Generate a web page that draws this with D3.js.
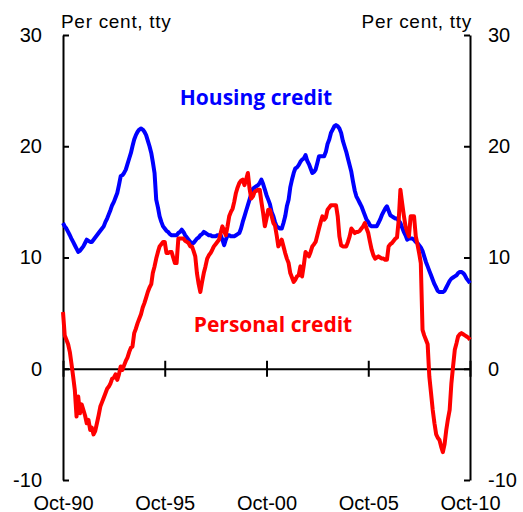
<!DOCTYPE html>
<html>
<head>
<meta charset="utf-8">
<script src="https://cdn.jsdelivr.net/npm/d3@7"></script>
<style>
  body { margin: 0; background: #fff; }
  svg { display: block; }
</style>
</head>
<body>
<svg></svg>
<script>
// monthly series, Oct-90 .. Oct-10, per cent year-ended
let startMonth = new Date(1990, 9, 1)

let housing = [
  13.1, 12.8, 12.6, 12.3, 12.0, 11.7, 11.4, 11.1, 10.8, 10.5, 10.6, 10.8,
  11.0, 11.3, 11.6, 11.5, 11.4, 11.4, 11.6, 11.8, 12.0, 12.2, 12.4, 12.6,
  12.8, 13.2, 13.5, 13.9, 14.3, 14.7, 15.0, 15.4, 15.8, 16.5, 17.3, 17.4,
  17.6, 17.9, 18.4, 18.9, 19.4, 20.0, 20.6, 21.0, 21.3, 21.5, 21.6, 21.5,
  21.3, 21.0, 20.5, 20.0, 19.4, 18.6, 17.6, 15.2, 14.5, 13.7, 13.2, 12.8,
  12.6, 12.4, 12.3, 12.1, 12.0, 12.0, 12.0, 12.0, 12.2, 12.3, 12.5, 12.3,
  12.0, 11.8, 11.6, 11.4, 11.3, 11.3, 11.5, 11.7, 11.8, 12.0, 12.1, 12.3,
  12.2, 12.1, 12.0, 12.0, 11.9, 11.9, 11.9, 12.0, 12.0, 12.0, 11.6, 11.1,
  11.6, 12.0, 12.0, 11.9, 11.9, 11.9, 12.0, 12.1, 12.2, 12.6, 13.2, 13.7,
  14.2, 14.7, 15.2, 15.7, 16.2, 16.3, 16.4, 16.5, 16.7, 17.0, 16.6, 16.1,
  15.6, 15.2, 14.8, 14.1, 13.7, 13.2, 12.8, 12.7, 12.6, 12.6, 13.1, 13.7,
  14.6, 15.2, 16.3, 17.0, 17.6, 18.0, 18.1, 18.3, 18.6, 18.8, 18.9, 19.2,
  18.7, 18.4, 18.0, 17.6, 17.7, 17.9, 18.5, 19.1, 19.1, 19.1, 19.1, 19.5,
  20.2, 20.6, 21.2, 21.5, 21.8, 21.9, 21.8, 21.6, 21.2, 20.5, 20.0, 19.5,
  18.9, 18.3, 17.7, 16.8, 16.0, 15.5, 15.2, 14.9, 14.6, 14.2, 13.8, 13.4,
  13.2, 12.9, 12.8, 12.8, 12.8, 12.8, 13.1, 13.4, 13.8, 14.1, 14.4, 14.6,
  14.2, 13.8, 13.7, 13.6, 13.5, 13.5, 13.3, 13.1, 12.7, 12.3, 12.0, 11.6,
  11.7, 11.7, 11.7, 11.6, 11.4, 11.3, 11.1, 10.9, 10.6, 10.1, 9.6, 9.2,
  8.8, 8.4, 8.0, 7.6, 7.3, 7.0, 6.9, 6.9, 6.9, 7.0, 7.3, 7.6,
  7.9, 8.1, 8.2, 8.3, 8.4, 8.6, 8.7, 8.7, 8.6, 8.4, 8.1, 7.9,
  7.7
]

let personal = [
  5.1, 3.0, 2.6, 2.2, 1.5, 0.5, -0.7, -1.9, -4.3, -2.5, -4.0, -3.2,
  -3.7, -4.2, -4.9, -4.6, -5.5, -5.3, -5.9, -5.6, -4.9, -4.2, -3.4, -3.0,
  -2.6, -2.2, -1.8, -1.6, -1.3, -0.9, -0.8, -0.5, -1.0, -0.5, 0.2, -0.1,
  0.3, 0.7, 1.0, 1.5, 1.9, 2.0, 3.2, 3.6, 4.1, 4.5, 4.9, 5.5,
  5.9, 6.4, 6.9, 7.3, 7.6, 8.6, 9.2, 9.9, 10.5, 11.0, 11.2, 11.4,
  11.4, 10.4, 10.4, 10.5, 10.5, 10.0, 9.5, 9.5, 11.7, 11.7, 11.7, 11.7,
  11.5, 11.4, 11.3, 11.0, 11.0, 10.6, 10.1, 8.6, 7.6, 6.9, 7.8, 8.6,
  9.2, 9.9, 10.2, 10.4, 10.7, 11.0, 11.2, 11.4, 11.6, 12.2, 12.8, 12.4,
  12.0, 12.8, 13.7, 14.1, 14.4, 15.0, 15.8, 16.3, 16.7, 16.9, 17.0, 16.5,
  17.0, 17.6, 16.2, 15.3, 15.5, 15.9, 16.0, 16.1, 16.1, 15.0, 14.0, 12.8,
  13.5, 14.3, 14.3, 13.7, 13.1, 12.9, 12.0, 11.0, 11.3, 11.6, 11.0, 10.4,
  9.9, 9.5, 8.6, 8.2, 7.8, 8.0, 8.3, 8.4, 9.2, 8.3, 9.3, 10.5,
  10.3, 10.1, 10.5, 11.0, 11.2, 11.4, 12.0, 12.6, 13.2, 13.7, 13.4, 13.6,
  14.3, 14.5, 14.7, 14.7, 14.7, 14.7, 13.7, 11.9, 11.1, 11.0, 11.0, 11.0,
  11.4, 11.9, 12.6, 12.4, 12.2, 12.3, 12.3, 12.4, 12.6, 12.8, 13.1, 12.6,
  12.2, 11.4, 10.7, 10.2, 9.9, 10.0, 10.1, 10.0, 9.9, 9.9, 9.8, 9.8,
  11.0, 11.2, 11.3, 11.5, 11.7, 11.8, 13.4, 16.1, 14.9, 13.8, 12.8, 12.3,
  11.9, 13.7, 13.7, 13.7, 11.9, 11.2, 10.4, 9.5, 3.5, 3.0, 2.6, 2.2,
  -0.7, -2.2, -3.7, -4.9, -5.9, -6.2, -6.4, -7.0, -7.5, -6.8, -5.5, -4.5,
  -3.7, -1.3, 0.2, 1.7, 2.3, 2.9, 3.1, 3.2, 3.1, 3.0, 2.9, 2.8,
  2.6
]

let yTicks = [-10, 0, 10, 20, 30]
let xTickYears = [1990, 1995, 2000, 2005, 2010]
let unitLabel = 'Per cent, tty'
let housingLabel = 'Housing credit'
let personalLabel = 'Personal credit'

let width = 523
let height = 512
let plotLeft = 63
let plotRight = 470
let plotTop = 35
let plotBottom = 480

let svg = d3.select('svg')
  .attr('width', width)
  .attr('height', height)

let months = housing.map((d, i) => d3.timeMonth.offset(startMonth, i))

let xScale = d3.scaleTime()
  .domain([months[0], months[months.length - 1]])
  .range([plotLeft, plotRight])

let yScale = d3.scaleLinear()
  .domain([-10, 30])
  .range([plotBottom, plotTop])

let fmt = d3.timeFormat('%b-%y')
let yFmt = d => String(d)
let xTickDates = xTickYears.map(y => new Date(y, 9, 1))

let styleAxis = (g) => {
  g.attr('font-family', '"Liberation Sans", Arial, sans-serif')
   .attr('font-size', 20)
  g.selectAll('path, line').attr('stroke', '#000').attr('stroke-width', 2)
  g.selectAll('text').attr('fill', '#000')
}

// left axis, ticks pointing inward
svg.append('g')
  .attr('transform', `translate(${plotLeft},0)`)
  .call(d3.axisLeft(yScale).tickValues(yTicks).tickFormat(yFmt)
    .tickSizeInner(-6).tickSizeOuter(0).tickPadding(21))
  .call(styleAxis)

// right axis
svg.append('g')
  .attr('transform', `translate(${plotRight},0)`)
  .call(d3.axisRight(yScale).tickValues(yTicks).tickFormat(yFmt)
    .tickSizeInner(-6).tickSizeOuter(0).tickPadding(18))
  .call(styleAxis)

// zero line with crossing ticks
let zeroAxis = svg.append('g')
  .attr('transform', `translate(0,${yScale(0)})`)
  .call(d3.axisBottom(xScale).tickValues(xTickDates).tickSizeOuter(0).tickFormat(''))
  .call(styleAxis)
zeroAxis.selectAll('.tick line').attr('y1', -8).attr('y2', 8)

// date labels under the plot
let dateAxis = svg.append('g')
  .attr('transform', `translate(0,${plotBottom})`)
  .call(d3.axisBottom(xScale).tickValues(xTickDates).tickSize(0).tickPadding(16).tickFormat(fmt))
  .call(styleAxis)
dateAxis.select('.domain').remove()

// unit labels
svg.append('text')
  .attr('x', plotLeft - 2)
  .attr('y', 28)
  .attr('font-family', '"Liberation Sans", Arial, sans-serif')
  .attr('font-size', 19)
  .attr('letter-spacing', 0.7)
  .text(unitLabel)

svg.append('text')
  .attr('x', plotRight + 2)
  .attr('y', 28)
  .attr('text-anchor', 'end')
  .attr('font-family', '"Liberation Sans", Arial, sans-serif')
  .attr('font-size', 19)
  .attr('letter-spacing', 0.7)
  .text(unitLabel)

let line = d3.line()
  .x((d, i) => xScale(months[i]))
  .y(d => yScale(d))

svg.append('path')
  .datum(housing)
  .attr('fill', 'none')
  .attr('stroke', '#0000ff')
  .attr('stroke-width', 4)
  .attr('stroke-linejoin', 'round')
  .attr('d', line)

svg.append('path')
  .datum(personal)
  .attr('fill', 'none')
  .attr('stroke', '#ff0000')
  .attr('stroke-width', 4)
  .attr('stroke-linejoin', 'round')
  .attr('d', line)

svg.append('text')
  .attr('x', 256)
  .attr('y', 105)
  .attr('text-anchor', 'middle')
  .attr('font-family', '"Open Sans", sans-serif')
  .attr('font-weight', 'bold')
  .attr('font-size', 21)
  .attr('fill', '#0000ff')
  .text(housingLabel)

svg.append('text')
  .attr('x', 273)
  .attr('y', 332)
  .attr('text-anchor', 'middle')
  .attr('font-family', '"Open Sans", sans-serif')
  .attr('font-weight', 'bold')
  .attr('font-size', 21)
  .attr('fill', '#ff0000')
  .text(personalLabel)
</script>
</body>
</html>
